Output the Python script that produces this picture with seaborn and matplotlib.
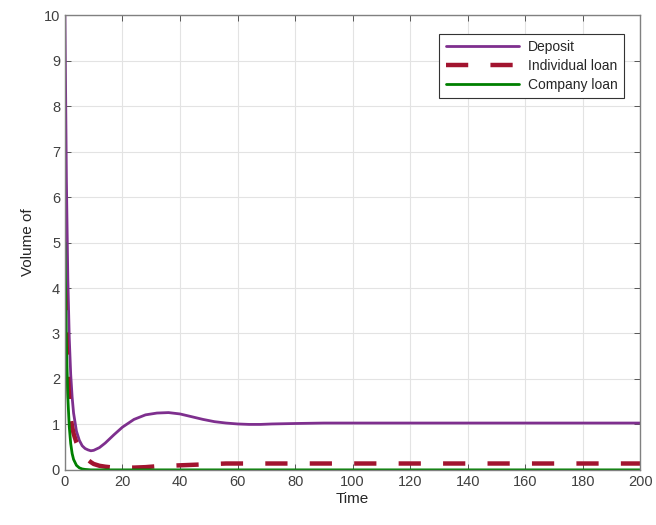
import numpy as np
import pandas as pd
import matplotlib
matplotlib.use("Agg")
import matplotlib.pyplot as plt
import seaborn as sns

# values
time = [0, 0.5, 1, 1.5, 2, 2.5, 3, 4, 5, 6, 7, 8, 9, 10, 12, 14, 17, 20, 24,
        28, 32, 36, 40, 44, 48, 52, 56, 60, 64, 68, 72, 80, 90, 100, 120, 140,
        160, 180, 200]
deposit = [10, 6.4, 4.2, 2.9, 2.1, 1.6, 1.25, 0.85, 0.65, 0.53, 0.47, 0.44,
           0.42, 0.43, 0.49, 0.59, 0.77, 0.94, 1.11, 1.21, 1.25, 1.26, 1.23,
           1.17, 1.11, 1.06, 1.03, 1.01, 1.0, 1.0, 1.01, 1.02, 1.03, 1.03,
           1.03, 1.03, 1.03, 1.03, 1.03]
individual = [4.0, 2.9, 2.1, 1.55, 1.15, 0.95, 0.8, 0.6, 0.46, 0.36, 0.28,
              0.22, 0.17, 0.13, 0.09, 0.07, 0.05, 0.05, 0.05, 0.06, 0.08,
              0.09, 0.1, 0.11, 0.12, 0.13, 0.14, 0.14, 0.14, 0.14, 0.14, 0.14,
              0.14, 0.14, 0.14, 0.14, 0.14, 0.14, 0.14]
company = [5.0, 2.8, 1.6, 0.95, 0.58, 0.36, 0.23, 0.1, 0.045, 0.02, 0.01,
           0.005, 0, 0, 0, 0, 0, 0, 0, 0, 0, 0, 0, 0, 0, 0, 0, 0, 0, 0, 0, 0,
           0, 0, 0, 0, 0, 0, 0]
names = ["Deposit", "Individual loan", "Company loan"]

df = pd.DataFrame({
    "Time": time * 3,
    "value": deposit + individual + company,
    "series": [names[0]] * len(time) + [names[1]] * len(time) + [names[2]] * len(time),
})

sns.set_style("whitegrid")
plt.rcParams["font.family"] = ["Liberation Sans", "DejaVu Sans"]

fig = plt.figure(figsize=(6.56, 5.25), dpi=100)
ax = fig.add_axes([0.099, 0.105, 0.877, 0.866])

palette = {"Deposit": "#7E2F8E", "Individual loan": "#A2142F", "Company loan": "#008000"}
sns.lineplot(data=df, x="Time", y="value", hue="series", style="series",
             palette=palette, dashes={"Deposit": "", "Individual loan": (5, 5), "Company loan": ""},
             sort=False, estimator=None, ax=ax)

widths = {"Deposit": 2.0, "Individual loan": 3.2, "Company loan": 2.0}
for line, name in zip(ax.get_lines()[:3], names):
    line.set_linewidth(widths[name])

ax.set_xlim(0, 200)
ax.set_ylim(0, 10)
ax.set_xticks(range(0, 201, 20))
ax.set_yticks(range(0, 11))
ax.set_xlabel("Time", fontsize=11, color="#262626", labelpad=2)
ax.set_ylabel("Volume of", fontsize=11, color="#262626", labelpad=6)
ax.grid(True, color="#e3e3e3", linewidth=0.8)
ax.tick_params(direction="in", length=4, labelsize=10.5, colors="#404040",
               top=True, right=True, bottom=True, left=True, width=0.6)
for s in ax.spines.values():
    s.set_color("#808080")
    s.set_linewidth(1.0)

handles, labels = ax.get_legend_handles_labels()
for h, name in zip(handles, labels):
    h.set_linewidth(widths.get(name, 2.0))
leg = ax.legend(handles, labels, loc="upper right", bbox_to_anchor=(0.983, 0.975),
                fontsize=10, fancybox=False, framealpha=1, edgecolor="#333333",
                handlelength=5.3, handletextpad=0.6, borderpad=0.45,
                labelspacing=0.35)
leg.get_frame().set_linewidth(0.8)

fig.savefig("out.png", dpi=100)
